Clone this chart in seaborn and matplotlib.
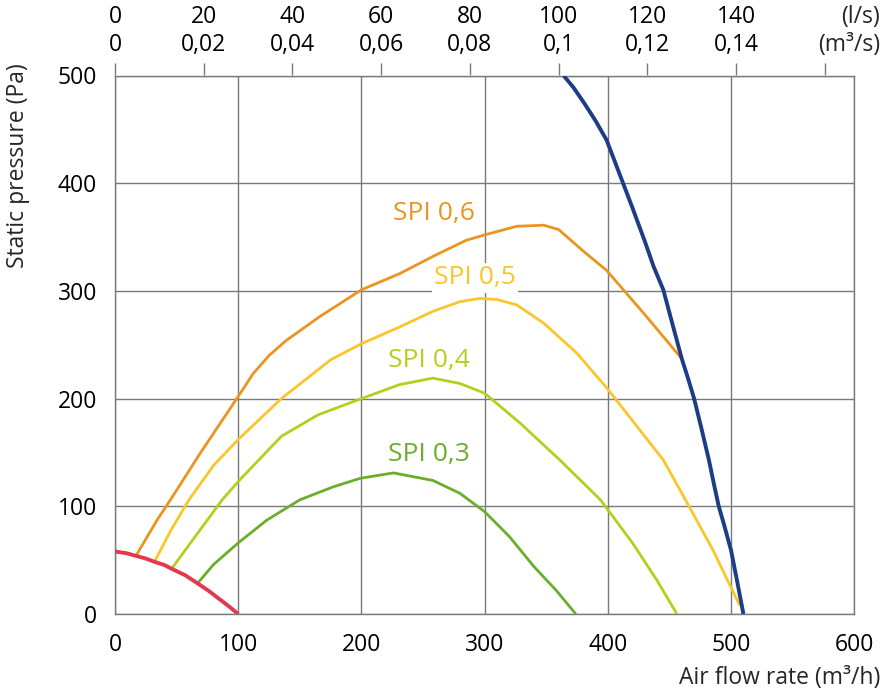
import matplotlib
matplotlib.use("Agg")
import matplotlib.pyplot as plt
import seaborn as sns
import pandas as pd

# ---- data ----
blue_x = [364, 372, 381, 390, 399, 405, 412, 420, 430, 437, 445, 452, 460, 465, 470, 476, 482, 486, 490, 495, 500, 505, 510]
blue_y = [500, 489, 474, 458, 440, 422, 401, 377, 346, 323, 301, 271, 237, 219, 200, 172, 143, 121, 100, 80, 59, 30, 0]

red_x = [0, 9, 17, 25, 32, 40, 46, 57, 67, 76, 84, 92, 100]
red_y = [58, 56.5, 54, 51.5, 48.5, 45.5, 42, 36, 28.5, 21.5, 14.5, 7.5, 0]

spi06_x = [17, 34, 45, 69, 100, 112, 125, 139, 166, 200, 231, 258, 285, 300, 326, 348, 360, 367, 380, 399, 430, 460]
spi06_y = [54, 87, 106, 149, 202, 223, 240, 254, 276, 301, 316, 332, 347, 352, 360, 361, 357, 350, 337, 319, 278, 237]

spi05_x = [32, 45, 60, 80, 100, 135, 175, 200, 230, 258, 280, 296, 310, 326, 348, 375, 399, 421, 445, 463, 485, 507]
spi05_y = [48.5, 77, 106, 138, 162, 200, 236, 251, 266, 281, 290, 293, 292, 287, 270, 242, 210, 178, 143, 106, 60, 8]

spi04_x = [46, 60, 87, 100, 135, 165, 200, 231, 258, 280, 300, 329, 361, 394, 420, 440, 456]
spi04_y = [42, 64, 106, 123, 165, 185, 200, 213, 219, 214, 205, 177, 143, 106, 66, 31, 0]

spi03_x = [67, 80, 100, 123, 150, 177, 199, 226, 258, 280, 300, 320, 340, 358, 374]
spi03_y = [28.5, 46, 66, 87, 106, 118, 126, 131, 124, 112, 95, 72, 44, 22, 0]

spi_labels = ["SPI 0,6", "SPI 0,5", "SPI 0,4", "SPI 0,3"]
label_x = [259, 292, 255, 255]
label_y = [372, 312, 235, 148]

x_ticks = [0, 100, 200, 300, 400, 500, 600]
y_ticks = [0, 100, 200, 300, 400, 500]
top_ls = [0, 20, 40, 60, 80, 100, 120, 140, 160]
top_labels = ["0\n0", "20\n0,02", "40\n0,04", "60\n0,06", "80\n0,08",
              "100\n0,1", "120\n0,12", "140\n0,14", ""]

# ---- style ----
sns.set_style("white")
plt.rcParams["font.family"] = ["Open Sans", "DejaVu Sans"]
grid_c = "#7a7a7a"
fs = 16.5

fig = plt.figure(figsize=(8.86, 6.9), dpi=100)
ax = fig.add_axes([115/886, 1-614/690, (854.3-115)/886, (614-75.5)/690])

ax.set_xlim(0, 600)
ax.set_ylim(0, 500)
ax.set_xticks(x_ticks)
ax.set_yticks(y_ticks)
ax.grid(True, color=grid_c, lw=1.0, zorder=0)
for s in ax.spines.values():
    s.set_color(grid_c)
    s.set_linewidth(1.0)
ax.tick_params(axis="both", colors=grid_c, labelcolor="black", labelsize=fs,
               length=8, width=1.0, direction="out")
ax.tick_params(axis="y", pad=5)
ax.tick_params(axis="x", pad=6)

colors = {
    "spi06": "#EA951F",
    "spi05": "#FBC62A",
    "spi04": "#B8CE1C",
    "spi03": "#6BAE2B",
    "red": "#E13A4E",
    "blue": "#1D3E85",
}

curves = [
    (spi03_x, spi03_y, colors["spi03"], 2.0),
    (spi04_x, spi04_y, colors["spi04"], 2.0),
    (spi05_x, spi05_y, colors["spi05"], 2.0),
    (spi06_x, spi06_y, colors["spi06"], 2.0),
    (red_x, red_y, colors["red"], 2.8),
    (blue_x, blue_y, colors["blue"], 2.8),
]
for xs, ys, c, lw in curves:
    df = pd.DataFrame({"x": xs, "y": ys})
    sns.lineplot(data=df, x="x", y="y", color=c, lw=lw, sort=False,
                 ax=ax, zorder=3, solid_capstyle="butt", solid_joinstyle="round")

lab_colors = [colors["spi06"], colors["spi05"], colors["spi04"], colors["spi03"]]
for t, lx, ly, c in zip(spi_labels, label_x, label_y, lab_colors):
    ax.text(lx, ly, t, color=c, fontsize=19, ha="center", va="center", zorder=4,
            bbox=dict(facecolor="white", edgecolor="none", pad=1.5))

ax.set_xlabel("")
ax.set_ylabel("")

# top secondary axis (l/s and m3/s)
sec = ax.secondary_xaxis("top", functions=(lambda v: v / 3.6, lambda v: v * 3.6))
sec.set_xticks(top_ls)
sec.set_xticklabels(top_labels, linespacing=1.25)
sec.tick_params(axis="x", colors=grid_c, labelcolor="black", labelsize=fs,
                length=9, width=1.0, direction="out", pad=4)
sec.spines["top"].set_visible(False)

fig.text(880/886, 1-31/690, "(l/s)\n(m³/s)", ha="right", va="center",
         fontsize=fs, linespacing=1.25)

fig.text(880/886, 1-678/690, "Air flow rate (m³/h)", ha="right", va="center",
         fontsize=fs)
fig.text(18/886, 1-63/690, "Static pressure (Pa)", ha="center", va="top",
         rotation=90, fontsize=fs)

fig.savefig("out.png", dpi=100)
